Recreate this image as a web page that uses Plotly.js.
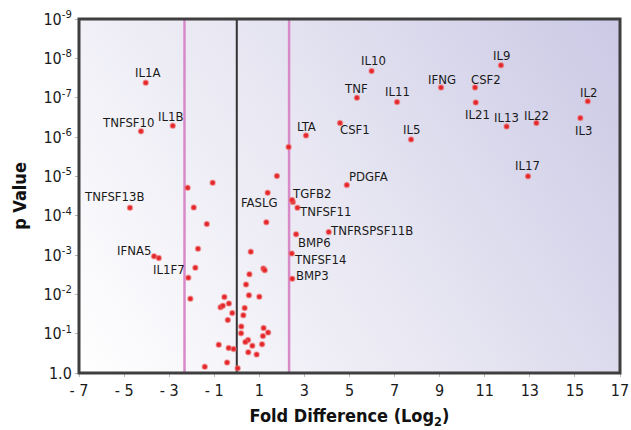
<!DOCTYPE html>
<html>
<head>
<meta charset="utf-8">
<script src="https://cdn.plot.ly/plotly-3.0.1.min.js"></script>
<style>
  html, body { margin: 0; padding: 0; background: #ffffff; }
  #chart { width: 631px; height: 430px; }
</style>
</head>
<body>
<div id="chart"></div>
<script>
// ---- Labeled genes (fold difference log2, p value) ----
const labelGenes = ["IL1A","TNFSF10","IL1B","TNFSF13B","IFNA5","IL1F7","IL10","TNF","LTA","CSF1","PDGFA","IL11","IL9","IFNG","CSF2","IL21","IL13","IL22","IL2","IL3","IL5","IL17","FASLG","TGFB2","TNFSF11","TNFRSPSF11B","BMP6","TNFSF14","BMP3"];
const labelFold  = [-4.04, -4.25, -2.84, -4.74, -3.67, -2.15, 5.98, 5.33, 3.07, 4.58, 4.88, 7.11, 11.72, 9.06, 10.57, 10.60, 11.97, 13.29, 15.57, 15.24, 7.73, 12.92, 1.37, 2.45, 2.69, 4.08, 2.63, 2.44, 2.46];
const labelP     = [4.2e-8, 7.1e-7, 5.2e-7, 6.3e-5, 1.07e-3, 3.8e-3, 2.1e-8, 1.0e-7, 9.1e-7, 4.4e-7, 1.66e-5, 1.29e-7, 1.5e-8, 5.5e-8, 5.5e-8, 1.32e-7, 5.4e-7, 4.4e-7, 1.23e-7, 3.3e-7, 1.15e-6, 1.0e-5, 2.6e-5, 4.0e-5, 6.3e-5, 2.6e-4, 2.95e-4, 9.1e-4, 4.0e-3];

// ---- Unlabeled genes ----
const otherFold = [-3.46, -2.18, -1.07, 2.30, 1.78, 1.31, -1.91, -1.33, -1.72, 0.62, -1.84, 1.18, 1.24, 0.56, 0.41, -2.06, -0.55, 0.54, 1.00, -0.35, -0.72, -0.62, 0.35, -0.20, 0.29, -0.40, 0.20, 1.19, 1.39, 0.19, 1.16, 0.50, 0.38, 0.69, 1.12, -0.80, -0.36, -0.14, 0.51, 0.88, -0.43, -1.42, 0.04, 2.49];
const otherP    = [1.2e-3, 1.95e-5, 1.45e-5, 1.8e-6, 9.8e-6, 1.48e-4, 6.2e-5, 1.62e-4, 6.9e-4, 8.3e-4, 2.1e-3, 2.2e-3, 2.45e-3, 3.1e-3, 5.6e-3, 0.0129, 0.0117, 0.0105, 0.0115, 0.017, 0.0214, 0.0195, 0.0224, 0.030, 0.034, 0.045, 0.066, 0.072, 0.093, 0.098, 0.115, 0.145, 0.162, 0.204, 0.186, 0.19, 0.23, 0.245, 0.295, 0.34, 0.54, 0.69, 0.76, 4.5e-5];

// ---- Thresholds ----
const foldThreshold = 2.32;   // log2(5)
const pThreshold = 0.0048;

// ---- Axis ticks ----
const xTickVals = [-7,-5,-3,-1,1,3,5,7,9,11,13,15,17];
const yTickVals = [1e-9,1e-8,1e-7,1e-6,1e-5,1e-4,1e-3,1e-2,1e-1,1];
const yTickText = ["10<sup>-9</sup>","10<sup>-8</sup>","10<sup>-7</sup>","10<sup>-6</sup>","10<sup>-5</sup>","10<sup>-4</sup>","10<sup>-3</sup>","10<sup>-2</sup>","10<sup>-1</sup>","1.0"];

// label offsets in pixels (style only)
const labelDX = [2,-13,-2,-16,-20,-19,2,-1,1,15,22,0,1,1,11,2,0,0,1,3,0,-1,-8,19,28,43,18,28,20];
const labelDY = [10,9,9,11,6,8,11,9,9,-7,8,11,10,8,8,-12,9,7,9,-12,10,11,-10,7,-4,1,-8,-6,3];

const FONT = "'Liberation Sans Narrow', 'DejaVu Sans Condensed', 'Arial Narrow', sans-serif";

// gradient background image
function gradientURL() {
  const c = document.createElement('canvas');
  c.width = 541; c.height = 354;
  const g = c.getContext('2d');
  const grad = g.createLinearGradient(0, c.height, c.width, 0);
  grad.addColorStop(0, '#ffffff');
  grad.addColorStop(0.5, '#e7e6f2');
  grad.addColorStop(1, '#cbc9e5');
  g.fillStyle = grad;
  g.fillRect(0, 0, c.width, c.height);
  return c.toDataURL('image/png');
}

const markerStyle = {
  color: '#e3262a',
  size: 5,
  line: { color: 'rgba(240,110,110,0.5)', width: 1.5 }
};

const traces = [
  { type: 'scatter', mode: 'markers', x: otherFold, y: otherP, marker: markerStyle, hoverinfo: 'skip', showlegend: false },
  { type: 'scatter', mode: 'markers', x: labelFold, y: labelP, text: labelGenes, marker: markerStyle, hoverinfo: 'text', showlegend: false }
];

const annotations = labelGenes.map((g, i) => ({
  x: labelFold[i], y: Math.log10(labelP[i]), xref: 'x', yref: 'y',
  text: g, showarrow: false, xanchor: 'center', yanchor: 'middle',
  xshift: labelDX[i], yshift: labelDY[i],
  font: { family: FONT, size: 13, color: '#1a1a1a' }
}));

const layout = {
  width: 631, height: 430,
  margin: { l: 79, r: 11, t: 19, b: 57 },
  paper_bgcolor: '#ffffff',
  plot_bgcolor: 'rgba(0,0,0,0)',
  showlegend: false,
  font: { family: FONT, size: 16, color: '#1a1a1a' },
  xaxis: {
    range: [-7, 17], tickvals: xTickVals, ticktext: xTickVals.map(v => v < 0 ? '- ' + Math.abs(v) : String(v)),
    showgrid: false, zeroline: false, showline: false,
    ticks: 'outside', ticklen: 3, tickcolor: '#bbbbbb', tickwidth: 1,
    tickfont: { family: FONT, size: 16, color: '#1a1a1a' },
    title: { text: '<b>Fold Difference (Log<sub>2</sub>)</b>', font: { family: FONT, size: 18, color: '#111' }, standoff: 10 }
  },
  yaxis: {
    type: 'log', range: [0, -9], tickvals: yTickVals, ticktext: yTickText,
    showgrid: false, zeroline: false, showline: false,
    ticks: 'outside', ticklen: 3, tickcolor: '#bbbbbb', tickwidth: 1,
    tickfont: { family: FONT, size: 16, color: '#1a1a1a' },
    title: { text: '<b>p Value</b>', font: { family: FONT, size: 18, color: '#111' }, standoff: 12 }
  },
  images: [{
    source: gradientURL(), xref: 'paper', yref: 'paper', x: 0, y: 1, sizex: 1, sizey: 1,
    xanchor: 'left', yanchor: 'top', sizing: 'stretch', layer: 'below'
  }],
  shapes: [
    { type: 'line', xref: 'x', yref: 'paper', x0: -foldThreshold, x1: -foldThreshold, y0: 0, y1: 1, line: { color: '#d88ac8', width: 2.5 }, layer: 'below' },
    { type: 'line', xref: 'x', yref: 'paper', x0: foldThreshold, x1: foldThreshold, y0: 0, y1: 1, line: { color: '#d88ac8', width: 2.5 }, layer: 'below' },
    { type: 'line', xref: 'x', yref: 'paper', x0: 0, x1: 0, y0: 0, y1: 1, line: { color: '#333333', width: 2 }, layer: 'below' },
    { type: 'line', xref: 'paper', yref: 'y', x0: 0, x1: 1, y0: Math.log10(pThreshold), y1: Math.log10(pThreshold), line: { color: '#5b6fc6', width: 2 }, layer: 'below' },
    { type: 'rect', xref: 'paper', yref: 'paper', x0: 0, x1: 1, y0: 0, y1: 1, line: { color: '#3f3f3f', width: 3 } }
  ],
  annotations: annotations
};

Plotly.newPlot('chart', traces, layout, { displayModeBar: false, staticPlot: true });
</script>
</body>
</html>
